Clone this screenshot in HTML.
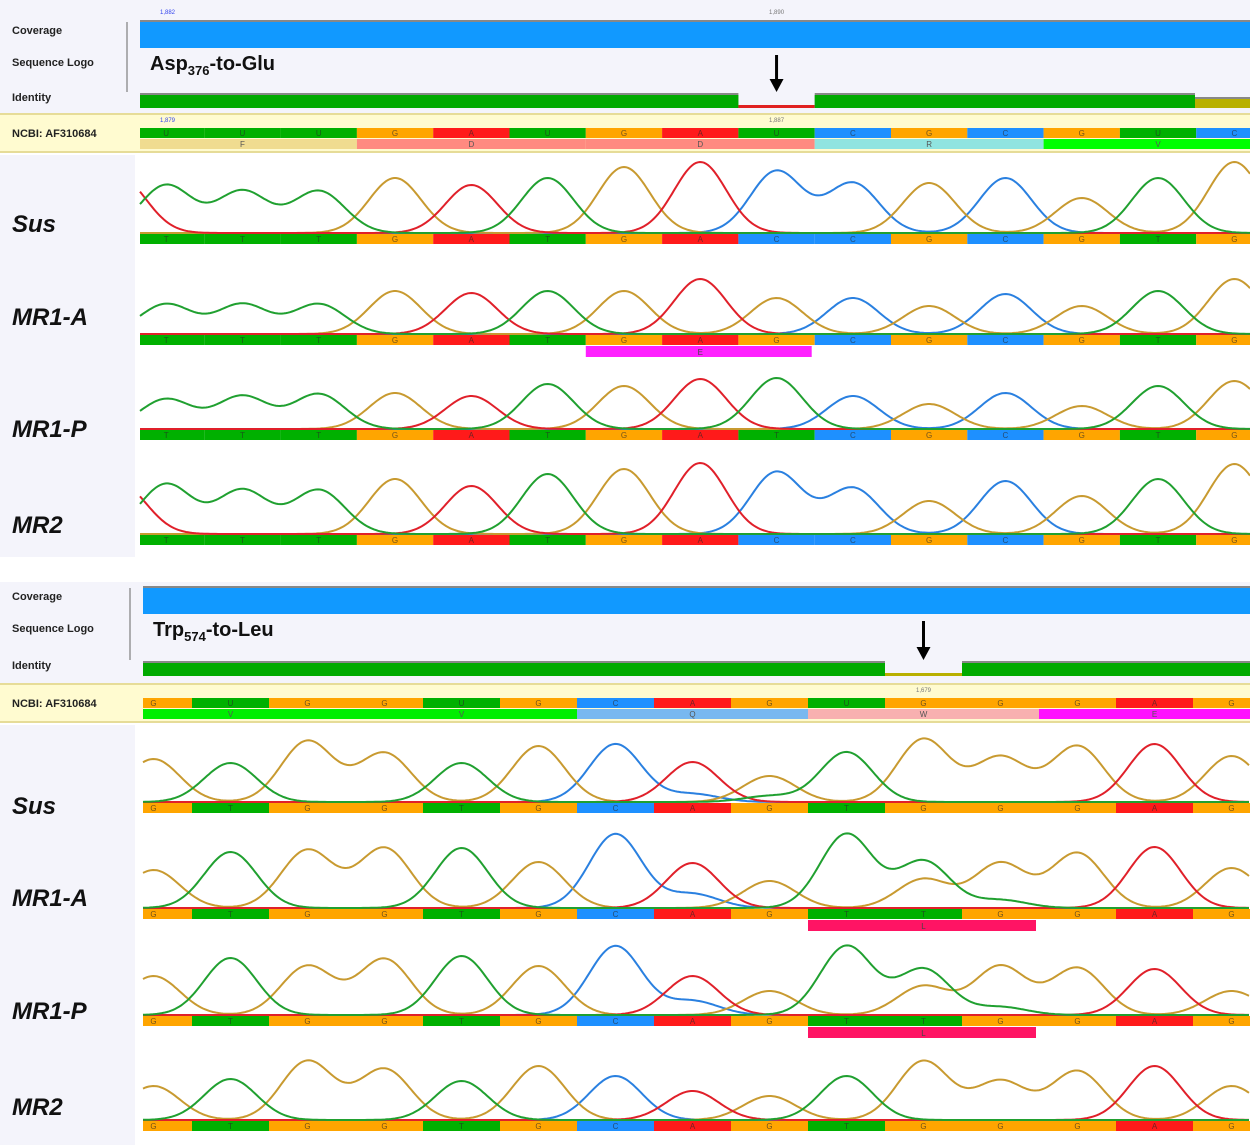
<!DOCTYPE html>
<html><head><meta charset="utf-8"><style>
html,body{margin:0;padding:0;background:#fff;}
svg{display:block;font-family:"Liberation Sans",sans-serif;}
</style></head><body>
<svg id="fig" width="1250" height="1145" viewBox="0 0 1250 1145"></svg>
<script>
// ---------- data ----------
const topRefBases = ['U','U','U','G','A','U','G','A','U','C','G','C','G','U','C'];
const topAA = ['F','D','D','R','V'];
const topAAColors = ['#f0dc90','#ff8a80','#ff8a80','#90e4e0','#00ff00'];
const botRefBases = ['G','U','G','G','U','G','C','A','G','U','G','G','G','A','G'];
const botAA = ['V','V','Q','W','E'];
const botAAColors = ['#00ee00','#00ee00','#78b8f0','#f8b0b0','#ff10ff'];

const topSamples = ['Sus','MR1-A','MR1-P','MR2'];
const topSusBases  = ['T','T','T','G','A','T','G','A','C','C','G','C','G','T','G'];
const topSusH      = [48,42,42,55,48,55,66,71,62,50,50,55,35,55,71];
const topMR1ABases = ['T','T','T','G','A','T','G','A','G','C','G','C','G','T','G'];
const topMR1AH     = [30,30,30,43,41,43,43,55,36,36,28,40,28,43,55];
const topMR1PBases = ['T','T','T','G','A','T','G','A','T','C','G','C','G','T','G'];
const topMR1PH     = [30,33,35,36,33,45,43,50,51,33,25,36,23,43,48];
const topMR2Bases  = ['T','T','T','G','A','T','G','A','C','C','G','C','G','T','G'];
const topMR2H      = [50,44,44,55,48,60,65,71,62,46,33,53,38,55,70];
const topLeadA     = [55,0,0,50];

const botSusBases  = ['G','T','G','G','T','G','C','A','G','T','G','G','G','A','G'];
const botSusH      = [43,39,61,49,39,56,58,40,26,50,63,45,56,58,46];
const botMR1ABases = ['G','T','G','G','T','G','C','A','G','T','T','G','G','A','G'];
const botMR1AH     = [38,56,58,60,60,46,74,45,27,74,47,45,55,61,40];
const botMR1PBases = ['G','T','G','G','T','G','C','A','G','T','T','G','G','A','G'];
const botMR1PH     = [39,57,49,56,59,49,69,39,24,69,46,49,47,46,24];
const botMR2Bases  = ['G','T','G','G','T','G','C','A','G','T','G','G','G','A','G'];
const botMR2H      = [34,41,59,51,39,54,44,29,24,44,59,39,49,54,34];
const botSecondaryG = [0,29,29,0];

// ---------- drawing ----------
const NS='http://www.w3.org/2000/svg';
const svg=document.getElementById('fig');
function mk(tag,attrs,parent){const e=document.createElementNS(NS,tag);for(const k in attrs)e.setAttribute(k,attrs[k]);(parent||svg).appendChild(e);return e;}
const barCol={A:'#ff1a1a',C:'#1e90ff',G:'#ffa500',T:'#00b000',U:'#00b000'};
const trCol={A:'#e0202a',C:'#2a80e0',G:'#c89a30',T:'#20a030'};

function header(o){
  mk('rect',{x:0,y:o.y0,width:1250,height:o.hH,fill:'#f4f4fb'});
  let t;
  [['Coverage',o.covY+12],['Sequence Logo',o.covY+44],['Identity',o.idY+6]].forEach(([s,y])=>{
    t=mk('text',{x:12,y:y,'font-size':11,'font-weight':'bold',fill:'#222'});t.textContent=s;
    
    
  });
  mk('line',{x1:o.axX,y1:o.covY,x2:o.axX,y2:o.idY-3,stroke:'#666','stroke-width':1});
  const cov=mk('rect',{x:o.x0,y:o.covY,width:1250-o.x0,height:26,fill:'#1199ff'});
  
  
  mk('rect',{x:o.x0,y:o.covY-2,width:1250-o.x0,height:2,fill:'#888'});
  t=mk('text',{x:o.x0+10,y:o.covY+48,'font-size':20,'font-weight':'bold',fill:'#111'});
  t.innerHTML=o.title[0]+'<tspan font-size="13" dy="5">'+o.title[1]+'</tspan><tspan dy="-5">'+o.title[2]+'</tspan>';
  
  
  const gx=o.start+o.step*o.gap, gx2=gx+o.step;
  mk('rect',{x:o.x0,y:o.idY-2,width:gx-o.x0,height:15,fill:'#888'});
  mk('rect',{x:o.x0,y:o.idY,width:gx-o.x0,height:13,fill:'#00aa00'});
  mk('rect',{x:gx,y:o.idY+10,width:o.step,height:3,fill:o.gapCol});
  mk('rect',{x:gx2,y:o.idY-2,width:o.idEnd-gx2,height:15,fill:'#888'});
  const idb=mk('rect',{x:gx2,y:o.idY,width:o.idEnd-gx2,height:13,fill:'#00aa00'});
  
  
  if(o.idEnd<1250){mk('rect',{x:o.idEnd,y:o.idY+4,width:1250-o.idEnd,height:9,fill:'#b8b000'});mk('rect',{x:o.idEnd,y:o.idY+2,width:1250-o.idEnd,height:2,fill:'#888'});}
  const ax=gx+o.step/2;
  mk('line',{x1:ax,y1:o.covY+33,x2:ax,y2:o.idY-12,stroke:'#000','stroke-width':3});
  const ar=mk('path',{d:`M${ax-7},${o.idY-16} L${ax+7},${o.idY-16} L${ax},${o.idY-3} Z`,fill:'#000'});
  
  
  const by=o.y0+o.hH;
  mk('rect',{x:0,y:by,width:1250,height:40,fill:'#fffbd0'});
  mk('rect',{x:0,y:by,width:1250,height:2,fill:'#e6dc98'});
  mk('rect',{x:0,y:by+38,width:1250,height:2,fill:'#e6dc98'});
  t=mk('text',{x:12,y:by+24,'font-size':11,'font-weight':'bold',fill:'#222'});t.textContent='NCBI: AF310684';
  
  
  if(o.posLbl){t=mk('text',{x:o.x0+20,y:by+9,'font-size':6,fill:'#3344ee'});t.textContent=o.posLbl;}
  t=mk('text',{x:ax,y:by+9,'font-size':6,fill:'#777','text-anchor':'middle'});t.textContent=o.midLbl;
  if(o.covLbl){t=mk('text',{x:o.x0+20,y:o.covY-8,'font-size':6,fill:'#3344ee'});t.textContent=o.covLbl;
   t=mk('text',{x:ax,y:o.covY-8,'font-size':6,fill:'#777','text-anchor':'middle'});t.textContent=o.covMid;}
  baseBar(o,o.ref,by+15,10,'ref-base');
  o.aa.forEach((a,k)=>{
    const x1=Math.max(o.x0,o.start+o.step*3*k), x2=Math.min(1250,o.start+o.step*3*(k+1));
    const r=mk('rect',{x:x1,y:by+26,width:x2-x1,height:10,fill:o.aaCol[k]});
    
    
    const tt=mk('text',{x:o.start+o.step*(3*k+1.5),y:by+34,'font-size':8,fill:'#555','text-anchor':'middle'});tt.textContent=a;
  });
}
function baseBar(o,bases,y,h,name){
  bases.forEach((b,i)=>{
    const x1=Math.max(o.x0,o.start+o.step*i), x2=Math.min(1250,o.start+o.step*(i+1));
    const r=mk('rect',{x:x1,y:y,width:x2-x1,height:h,fill:barCol[b]});
    
    
    const t=mk('text',{x:o.start+o.step*(i+0.5),y:y+h-2,'font-size':8,fill:'rgba(40,40,40,0.65)','text-anchor':'middle'});t.textContent=b;
  });
}
function trace(o,bases,H,extras,baseY,name,labelY,bar2){
  const peaks=bases.map((b,i)=>({p:i,c:b,h:H[i]})).concat(extras);
  const sig=o.step*0.34;
  ['C','G','A','T'].forEach(c=>{
    let d='';
    for(let x=o.x0;x<=1250;x+=2){
      let s=0;peaks.forEach(pk=>{if(pk.c===c){const px=o.start+o.step*(pk.p+0.5);s+=pk.h*Math.exp(-((x-px)**2)/(2*sig*sig));}});
      d+=(d?'L':'M')+x+','+(baseY-1-s).toFixed(1);
    }
    const p=mk('path',{d:d,fill:'none',stroke:trCol[c],'stroke-width':2});
    
    
  });
  baseBar(o,bases,baseY,10,'called-base');
  if(bar2){const r=mk('rect',{x:o.start+o.step*bar2[0],y:baseY+11,width:o.step*bar2[1]-3,height:11,fill:bar2[2]});
    
    
    const t=mk('text',{x:o.start+o.step*(bar2[0]+bar2[1]/2),y:baseY+20,'font-size':8,fill:'#444','text-anchor':'middle'});t.textContent=bar2[3];}
  const t=mk('text',{x:12,y:labelY,'font-size':24,'font-weight':'bold','font-style':'italic',fill:'#111'});t.textContent=name;
  
  
}

const s1={y0:0,hH:113,covY:22,idY:95,x0:140,axX:127,start:128,step:76.3,gap:8,gapCol:'#e02020',idEnd:1195,
  title:['Asp','376','-to-Glu'],ref:topRefBases,aa:topAA,aaCol:topAAColors,posLbl:'1,879',midLbl:'1,887',covLbl:'1,882',covMid:'1,890'};
header(s1);
mk('rect',{x:0,y:155,width:135,height:402,fill:'#f4f4fb'});
trace(s1,topSusBases,topSusH,[{p:-0.6,c:'A',h:topLeadA[0]}],234,'Sus',232);
trace(s1,topMR1ABases,topMR1AH,[],335,'MR1-A',325,[6,3,'#ff20ff','E']);
trace(s1,topMR1PBases,topMR1PH,[],430,'MR1-P',437);
trace(s1,topMR2Bases,topMR2H,[{p:-0.6,c:'A',h:topLeadA[3]}],535,'MR2',533);

const s2={y0:582,hH:101,covY:588,idY:663,x0:143,axX:130,start:115,step:77,gap:10,gapCol:'#b8b000',idEnd:1250,
  title:['Trp','574','-to-Leu'],ref:botRefBases,aa:botAA,aaCol:botAAColors,midLbl:'1,679'};
header(s2);
mk('rect',{x:0,y:725,width:135,height:420,fill:'#f4f4fb'});
trace(s2,botSusBases,botSusH,[{p:7,c:'C',h:8},{p:8,c:'T',h:6}],803,'Sus',814);
trace(s2,botMR1ABases,botMR1AH,[{p:10,c:'G',h:botSecondaryG[1]},{p:7,c:'C',h:14},{p:11,c:'T',h:8}],909,'MR1-A',906,[9,3,'#ff1464','L']);
trace(s2,botMR1PBases,botMR1PH,[{p:10,c:'G',h:botSecondaryG[2]},{p:7,c:'C',h:14},{p:11,c:'T',h:8}],1016,'MR1-P',1019,[9,3,'#ff1464','L']);
trace(s2,botMR2Bases,botMR2H,[],1121,'MR2',1115);
</script>
</body></html>
